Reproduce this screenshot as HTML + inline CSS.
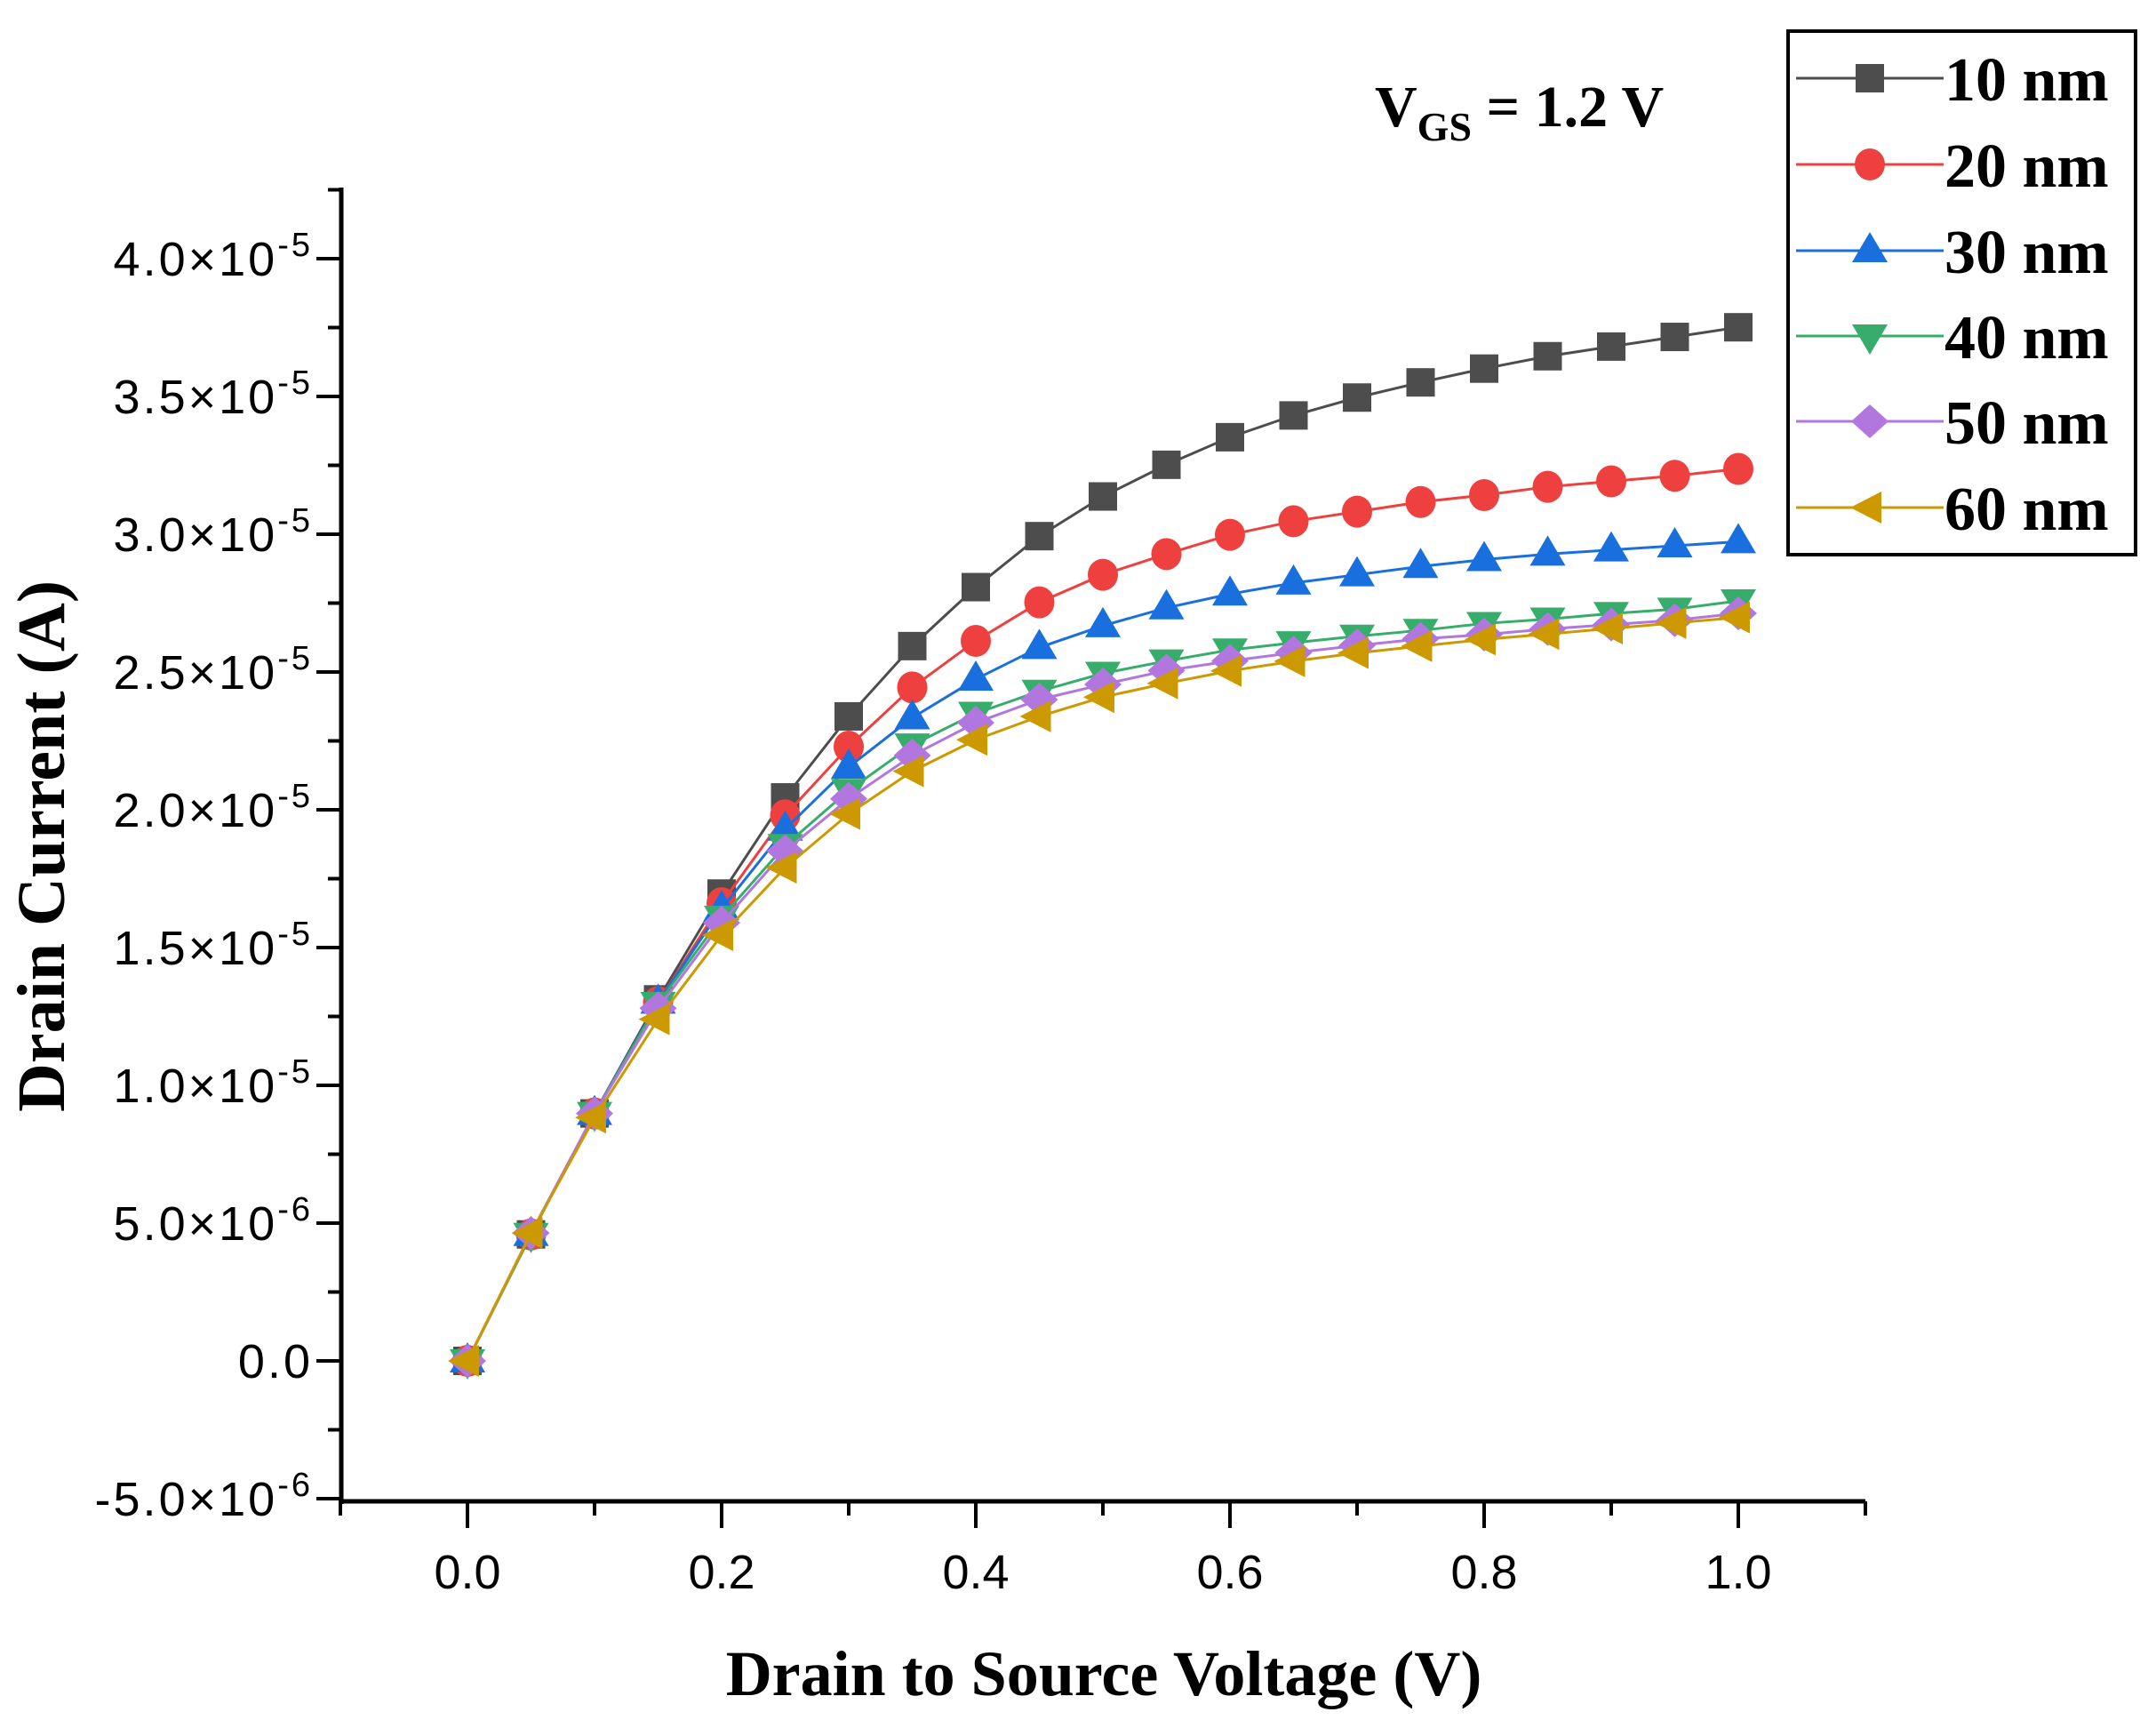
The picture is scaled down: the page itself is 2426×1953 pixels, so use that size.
<!DOCTYPE html>
<html><head><meta charset="utf-8"><style>
html,body{margin:0;padding:0;background:#fff;}
svg{display:block;}
</style></head><body>
<svg id="chart" width="2426" height="1953" viewBox="0 0 2426 1953" xmlns="http://www.w3.org/2000/svg">
<g id="axes"></g>
<g id="series"></g>
<text transform="translate(72,952) rotate(-90)" text-anchor="middle" font-family="Liberation Serif, serif" font-weight="bold" font-size="76">Drain Current (A)</text>
<text x="1242" y="1907" text-anchor="middle" font-family="Liberation Serif, serif" font-weight="bold" font-size="72">Drain to Source Voltage (V)</text>
<text x="1547" y="142" font-family="Liberation Serif, serif" font-weight="bold" font-size="66">V<tspan font-size="46" dy="16">GS</tspan><tspan dy="-16"> = 1.2 V</tspan></text>
<g id="legend">
<rect x="2012" y="35" width="391" height="589" fill="#fff" stroke="#000" stroke-width="4"/>
</g>
</svg>
<script>
const xValues = [0,0.05,0.1,0.15,0.2,0.25,0.3,0.35,0.4,0.45,0.5,0.55,0.6,0.65,0.7,0.75,0.8,0.85,0.9,0.95,1.0];
const seriesNames = ["10 nm","20 nm","30 nm","40 nm","50 nm","60 nm"];
const s10 = [0,0.459,0.898,1.312,1.696,2.045,2.339,2.594,2.808,2.993,3.137,3.252,3.352,3.431,3.496,3.551,3.601,3.646,3.681,3.716,3.751];
const s20 = [0,0.459,0.898,1.302,1.661,1.980,2.229,2.444,2.613,2.753,2.853,2.928,2.998,3.047,3.082,3.117,3.142,3.172,3.192,3.212,3.237];
const s30 = [0,0.459,0.898,1.302,1.641,1.930,2.155,2.334,2.474,2.589,2.668,2.733,2.783,2.823,2.853,2.883,2.908,2.928,2.943,2.958,2.973];
const s40 = [0,0.459,0.898,1.297,1.610,1.870,2.070,2.235,2.350,2.430,2.495,2.540,2.580,2.606,2.630,2.651,2.676,2.692,2.712,2.728,2.758];
const s50 = [0,0.464,0.898,1.280,1.590,1.850,2.040,2.197,2.316,2.400,2.455,2.505,2.540,2.570,2.596,2.620,2.636,2.656,2.672,2.688,2.713];
const s60 = [0,0.464,0.883,1.240,1.545,1.790,1.985,2.140,2.254,2.339,2.409,2.459,2.504,2.539,2.569,2.594,2.618,2.638,2.658,2.678,2.698];
const yTickValues = [-0.5,0,0.5,1.0,1.5,2.0,2.5,3.0,3.5,4.0];
const yTickMant = ["-5.0","0.0","5.0","1.0","1.5","2.0","2.5","3.0","3.5","4.0"];
const yTickExp = ["-6","","-6","-5","-5","-5","-5","-5","-5","-5"];
const xTickValues = [0,0.2,0.4,0.6,0.8,1.0];
const xTickLabels = ["0.0","0.2","0.4","0.6","0.8","1.0"];

const NS="http://www.w3.org/2000/svg";
function X(v){return 526 + v*(1956-526);}
function Y(v){return 1531 - v*(155/0.5);}
function mk(tag,attrs,parent){const e=document.createElementNS(NS,tag);for(const k in attrs)e.setAttribute(k,attrs[k]);parent.appendChild(e);return e;}
const axes=document.getElementById('axes');
const AX0=384, AX1=2099, AYB=1689, AYT=211;
let e;
e=mk('line',{x1:AX0,y1:AYT,x2:AX0,y2:AYB+3,stroke:'#000','stroke-width':5},axes);


e=mk('line',{x1:AX0-3,y1:AYB,x2:AX1,y2:AYB,stroke:'#000','stroke-width':5},axes);


for(let i=0;i<yTickValues.length;i++){
  const y=Y(yTickValues[i]);
  e=mk('line',{x1:AX0-28,y1:y,x2:AX0,y2:y,stroke:'#000','stroke-width':4},axes);
  
  
  if(i<yTickValues.length-1){
    const ym=Y((yTickValues[i]+yTickValues[i+1])/2);
    e=mk('line',{x1:AX0-15,y1:ym,x2:AX0,y2:ym,stroke:'#000','stroke-width':4},axes);
    
    
  }
  const t=mk('text',{x:352,y:y+19,'text-anchor':'end','font-family':'Liberation Sans, sans-serif','font-size':54,'letter-spacing':3},axes);
  
  
  if(yTickExp[i]===""){t.textContent=yTickMant[i];}
  else{
    t.appendChild(document.createTextNode(yTickMant[i]+"\u00d710"));
    const sp=mk('tspan',{dy:-22,'font-size':38},t);sp.textContent=yTickExp[i];
  }
}
e=mk('line',{x1:AX0-15,y1:Y(4.25),x2:AX0,y2:Y(4.25),stroke:'#000','stroke-width':4},axes);


for(let i=0;i<xTickValues.length;i++){
  const x=X(xTickValues[i]);
  e=mk('line',{x1:x,y1:AYB,x2:x,y2:AYB+30,stroke:'#000','stroke-width':4},axes);
  
  
  const t=mk('text',{x:x,y:1787,'text-anchor':'middle','font-family':'Liberation Sans, sans-serif','font-size':54},axes);
  
  
  t.textContent=xTickLabels[i];
}
for(let v=-0.1; v<=1.11; v+=0.2){
  const x=X(v);
  e=mk('line',{x1:x,y1:AYB,x2:x,y2:AYB+16,stroke:'#000','stroke-width':4},axes);
  
  
}
const colors=["#4d4d4d","#ef4040","#1a6fdf","#37ad6b","#b177de","#cc9900"];
const shapes=["square","circle","up","down","diamond","left"];
const data=[s10,s20,s30,s40,s50,s60];
function marker(shape,cx,cy,color,parent){
  let m;
  if(shape==="square") m=mk('rect',{x:cx-16,y:cy-16,width:32,height:32,fill:color},parent);
  else if(shape==="circle") m=mk('ellipse',{cx:cx,cy:cy,rx:17,ry:18,fill:color},parent);
  else if(shape==="up") m=mk('polygon',{points:`${cx},${cy-21} ${cx+20},${cy+13} ${cx-20},${cy+13}`,fill:color},parent);
  else if(shape==="down") m=mk('polygon',{points:`${cx},${cy+21} ${cx+20},${cy-13} ${cx-20},${cy-13}`,fill:color},parent);
  else if(shape==="diamond") m=mk('polygon',{points:`${cx},${cy-19} ${cx+21},${cy} ${cx},${cy+19} ${cx-21},${cy}`,fill:color},parent);
  else m=mk('polygon',{points:`${cx-22},${cy} ${cx+13},${cy-18} ${cx+13},${cy+18}`,fill:color},parent);
  return m;
}
const series=document.getElementById('series');
for(let s=0;s<data.length;s++){
  const g=mk('g',{},series);
  
  
  const pts=xValues.map((x,i)=>X(x)+','+Y(data[s][i])).join(' ');
  const pl=mk('polyline',{points:pts,fill:'none',stroke:colors[s],'stroke-width':3},g);
  
  
  for(let i=0;i<xValues.length;i++){
    const m=marker(shapes[s],X(xValues[i]),Y(data[s][i]),colors[s],g);
    
    
  }
}
const legend=document.getElementById('legend');
const rowsY=[88,185,282,378,474,571];
for(let s=0;s<seriesNames.length;s++){
  const g=mk('g',{},legend);
  
  
  const y=rowsY[s];
  mk('line',{x1:2021,y1:y,x2:2187,y2:y,stroke:colors[s],'stroke-width':3},g);
  marker(shapes[s],2104,y,colors[s],g);
  const t=mk('text',{x:2188,y:y+25,'font-family':'Liberation Serif, serif','font-weight':'bold','font-size':70},g);
  
  
  t.textContent=seriesNames[s];
}
</script>
</body></html>
